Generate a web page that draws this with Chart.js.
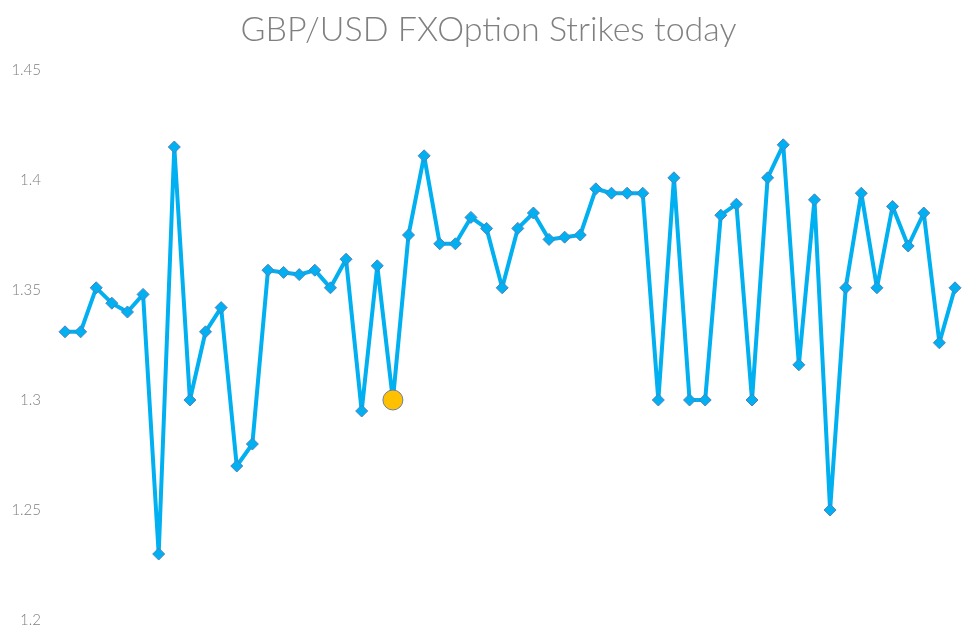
<!DOCTYPE html>
<html>
<head>
<meta charset="utf-8">
<title>GBP/USD FXOption Strikes today</title>
<script src="https://cdn.jsdelivr.net/npm/chart.js@4.4.0/dist/chart.umd.min.js"></script>
<style>
  body { margin: 0; background: #fff; }
  #wrap { width: 977px; height: 638px; }
</style>
</head>
<body>
<div id="wrap"><canvas id="strikes" width="977" height="638"></canvas></div>
<script>
// strike levels, one per option
const strikes = [
  1.331, 1.331, 1.351, 1.344, 1.340, 1.348, 1.230, 1.415, 1.300, 1.331,
  1.342, 1.270, 1.280, 1.359, 1.358, 1.357, 1.359, 1.351, 1.364, 1.295,
  1.361, 1.300, 1.375, 1.411, 1.371, 1.371, 1.383, 1.378, 1.351, 1.378,
  1.385, 1.373, 1.374, 1.375, 1.396, 1.394, 1.394, 1.394, 1.300, 1.401,
  1.300, 1.300, 1.384, 1.389, 1.300, 1.401, 1.416, 1.316, 1.391, 1.250,
  1.351, 1.394, 1.351, 1.388, 1.370, 1.385, 1.326, 1.351
];
const labels = strikes.map((v, i) => 'Strike ' + (i + 1));
const highlightIndex = 21; // the yellow point
const yTicks = [1.2, 1.25, 1.3, 1.35, 1.4, 1.45];
const chartTitle = 'GBP/USD FXOption Strikes today';

const blue = '#00b0f0';
const ctx = document.getElementById('strikes').getContext('2d');

// title centred on the whole canvas (the built-in one shifts with the padding)
const centredTitle = {
  id: 'centredTitle',
  afterDraw(chart) {
    const c = chart.ctx;
    c.save();
    c.fillStyle = '#808080';
    c.font = '300 34px Lato';
    c.textAlign = 'center';
    c.textBaseline = 'middle';
    c.fillText(chartTitle, chart.width / 2, 30);
    c.restore();
  }
};

const chart = new Chart(ctx, {
  type: 'line',
  data: {
    labels: labels,
    datasets: [{
      label: 'Strikes',
      data: strikes,
      borderColor: blue,
      borderWidth: 4,
      borderJoinStyle: 'round',
      tension: 0,
      pointStyle: strikes.map((v, i) => i === highlightIndex ? 'circle' : 'rectRot'),
      pointRadius: strikes.map((v, i) => i === highlightIndex ? 10 : 6),
      pointBackgroundColor: strikes.map((v, i) => i === highlightIndex ? '#ffc000' : blue),
      pointBorderColor: strikes.map((v, i) => i === highlightIndex ? '#6f7f99' : '#4f81bd'),
      pointBorderWidth: 1
    }]
  },
  options: {
    responsive: false,
    animation: false,
    layout: { padding: { left: 0, right: 22, top: 70, bottom: 18 } },
    plugins: {
      legend: { display: false },
      tooltip: { enabled: false },
      title: { display: false }
    },
    scales: {
      x: { display: false, offset: false },
      y: {
        min: 1.2,
        max: 1.45,
        afterBuildTicks: axis => { axis.ticks = yTicks.map(v => ({ value: v })); },
        afterFit: axis => {
          axis.width = 65;
          axis.paddingTop = 0;
          axis.paddingBottom = 0;
        },
        grid: { display: false },
        border: { display: false },
        ticks: {
          padding: 16,
          color: '#808080',
          font: { family: 'Lato', size: 15, weight: '300' },
          callback: v => String(Math.round(v * 100) / 100)
        }
      }
    }
  },
  plugins: [centredTitle]
});
</script>
</body>
</html>
